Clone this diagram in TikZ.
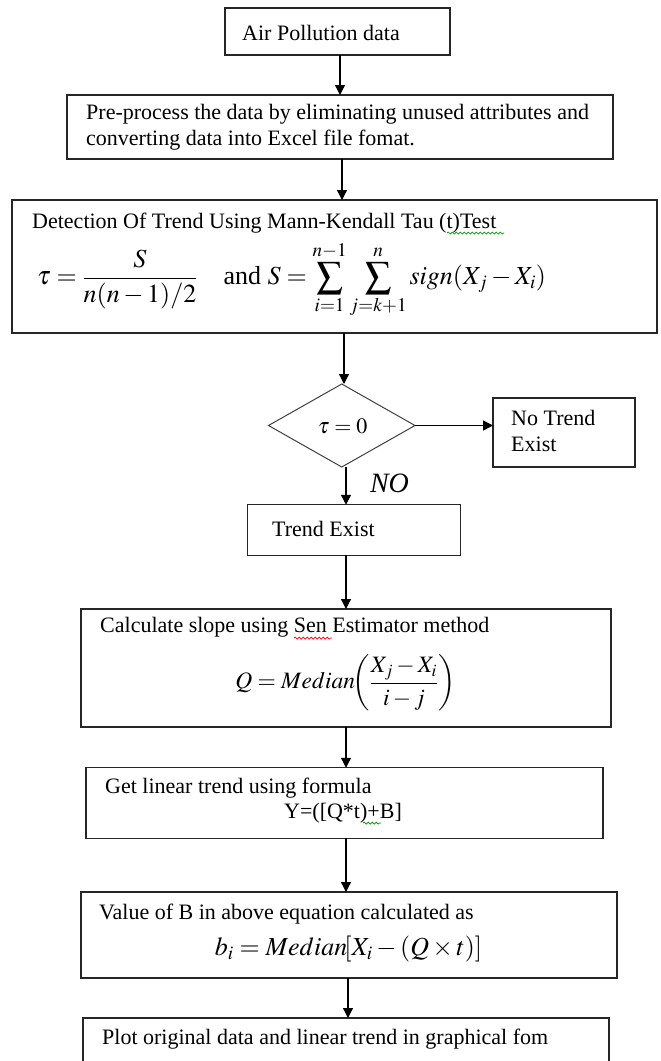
\documentclass[tikz,border=0pt]{standalone}
\usepackage{mathptmx}
\usepackage{fontspec}
\setmainfont{Liberation Serif}
\usetikzlibrary{shapes.geometric,arrows.meta,decorations.pathmorphing}
\begin{document}
\begin{tikzpicture}[x=1pt,y=-1pt,
  box/.style={draw=black!85, line width=1.4pt, inner sep=0pt, outer sep=0pt},
  lbl/.style={anchor=west, inner sep=0pt, font=\fontsize{22}{26}\selectfont, align=left},
  eq/.style={inner sep=0pt, font=\fontsize{22}{26}\selectfont},
  arr/.style={line width=1.3pt, -{Triangle[length=10pt,width=10pt]}},
  squig/.style={decorate, decoration={snake, amplitude=1pt, segment length=4pt}, line width=0.7pt}
]
\useasboundingbox (0,0) rectangle (661,1061);
\fill[white] (0,0) rectangle (661,1061);

% boxes
\node[box, minimum width=225pt, minimum height=47pt] (b1) at (337.5,31.5) {};
\node[box, minimum width=546pt, minimum height=64pt] (b2) at (340,127) {};
\node[box, minimum width=645pt, minimum height=133pt] (b3) at (334.5,266.5) {};
\node[diamond, draw=black!75, line width=1pt, inner sep=0pt, outer sep=0pt,
      aspect=1.765, minimum width=146.5pt, minimum height=83pt] (d) at (341.75,425.5) {};
\node[box, minimum width=142pt, minimum height=69pt] (nt) at (564,432.5) {};
\node[box, minimum width=213.5pt, minimum height=50.5pt] (te) at (354,530) {};
\node[box, minimum width=530pt, minimum height=118pt] (cs) at (346,668) {};
\node[box, minimum width=517pt, minimum height=70.5pt] (gl) at (344.5,803) {};
\node[box, minimum width=536pt, minimum height=86pt] (vb) at (349,935) {};
\node[box, minimum width=526pt, minimum height=70pt] (pl) at (346,1053) {};

% texts
\node[lbl] (t1) at (242,33) {Air Pollution data};
\node[lbl] (t2) at (86,127) {Pre-process the data by eliminating unused attributes and\\converting data into Excel file fomat.};
\node[lbl] (t3) at (32,223) {Detection Of Trend Using Mann-Kendall Tau (t)Test};
\node[eq, anchor=west, font=\fontsize{26}{30}\selectfont] (f3) at (37,280) {$\displaystyle \tau = \frac{S}{n(n-1)/2}\quad \mbox{and } S = \sum_{i=1}^{n-1}\sum_{j=k+1}^{n} sign(X_j - X_i)$};
\node[eq] (fd) at (342.6,426) {$\tau = 0$};
\node[lbl] (tnt) at (511,431) {No Trend\\Exist};
\node[eq, font=\fontsize{28}{30}\selectfont\itshape] (no) at (389.5,483) {NO};
\node[lbl] (tte) at (272,529) {Trend Exist};
\node[lbl] (tcs) at (100,627) {Calculate slope using Sen Estimator method};
\node[eq, font=\fontsize{23.5}{28}\selectfont] (fcs) at (345.5,683) {$\displaystyle Q = Median\mkern-4mu\left(\frac{X_j - X_i}{i-j}\right)$};
\node[lbl] (tgl) at (105,788) {Get linear trend using formula};
\node[eq] (fgl) at (343,813) {Y=([Q*t)+B]};
\node[lbl] (tvb) at (99,914) {Value of B in above equation calculated as};
\node[eq, font=\fontsize{26}{30}\selectfont] (fvb) at (348.5,949) {$\displaystyle b_i = Median\mkern-4mu\left[X_i - (Q\times t)\right]$};
\node[lbl] (tpl) at (102,1039) {Plot original data and linear trend in graphical fom};

% spell-check squiggles
\draw[squig, green!55!black] (447,233) -- (504,233);
\draw[squig, red] (294,638) -- (332,638);
\draw[squig, green!55!black] (363,823) -- (381,823);

% arrow columns
\coordinate (xa) at (340,0);
\coordinate (xb) at (342,0);
\coordinate (xc) at (344,0);
\coordinate (xd) at (346,0);
\coordinate (xe) at (348,0);

\draw[arr] (b1.south -| xa) -- (b2.north -| xa);
\draw[arr] (b2.south -| xb) -- (b3.north -| xb);
\draw[arr] (b3.south -| xc) -- (d.north -| xc);
\draw[arr] (d.east) -- (nt.west |- d.east);
\draw[arr] (d.south -| xd) -- (te.north -| xd);
\draw[arr] (te.south -| xd) -- (cs.north -| xd);
\draw[arr] (cs.south -| xd) -- (gl.north -| xd);
\draw[arr] (gl.south -| xd) -- (vb.north -| xd);
\draw[arr] (vb.south -| xe) -- (pl.north -| xe);
\end{tikzpicture}
\end{document}
